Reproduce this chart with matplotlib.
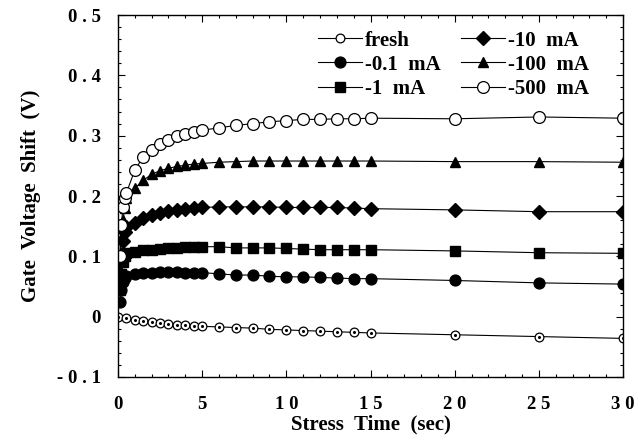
import matplotlib
matplotlib.use('Agg')
import matplotlib.pyplot as plt
from matplotlib.ticker import MultipleLocator, FuncFormatter

plt.rcParams['font.family'] = 'Liberation Serif'
plt.rcParams['font.weight'] = 'bold'

# ── data ──────────────────────────────────────────────────────────────────────
t_fresh = [0, 0.5, 1, 1.5, 2, 2.5, 3, 3.5, 4, 4.5, 5,
           6, 7, 8, 9, 10, 11, 12, 13, 14, 15, 20, 25, 30]
v_fresh = [0.000, -0.003, -0.005, -0.007, -0.009, -0.011, -0.012, -0.013, -0.014, -0.015, -0.016,
           -0.017, -0.018, -0.019, -0.021, -0.022, -0.023, -0.024, -0.025, -0.026, -0.027,
           -0.030, -0.033, -0.036]

t_stress = [0.1, 0.2, 0.3, 0.4, 0.5, 1, 1.5, 2, 2.5, 3, 3.5, 4, 4.5, 5,
            6, 7, 8, 9, 10, 11, 12, 13, 14, 15, 20, 25, 30]
v_01mA = [0.025, 0.045, 0.058, 0.064, 0.068, 0.070, 0.072, 0.073, 0.074, 0.074, 0.074, 0.073, 0.073, 0.073,
          0.071, 0.069, 0.069, 0.067, 0.066, 0.066, 0.065, 0.064, 0.063, 0.063, 0.060, 0.056, 0.054]
v_1mA = [0.045, 0.070, 0.090, 0.100, 0.105, 0.108, 0.110, 0.111, 0.112, 0.113, 0.114, 0.115, 0.116, 0.116,
         0.116, 0.114, 0.114, 0.114, 0.113, 0.112, 0.111, 0.111, 0.111, 0.111, 0.109, 0.106, 0.105]
v_10mA = [0.070, 0.100, 0.125, 0.140, 0.148, 0.155, 0.163, 0.168, 0.172, 0.175, 0.177, 0.179, 0.180, 0.181,
          0.182, 0.182, 0.182, 0.182, 0.181, 0.181, 0.181, 0.181, 0.180, 0.179, 0.177, 0.174, 0.174]
v_100mA = [0.090, 0.130, 0.160, 0.180, 0.197, 0.213, 0.226, 0.236, 0.242, 0.246, 0.249, 0.251, 0.253, 0.254,
           0.256, 0.257, 0.258, 0.258, 0.258, 0.258, 0.258, 0.258, 0.258, 0.258, 0.257, 0.257, 0.256]
v_500mA = [0.100, 0.152, 0.182, 0.197, 0.205, 0.243, 0.265, 0.277, 0.287, 0.293, 0.299, 0.303, 0.306, 0.309,
           0.313, 0.317, 0.320, 0.323, 0.325, 0.327, 0.327, 0.328, 0.328, 0.329, 0.328, 0.331, 0.329]

labels = ["fresh", "-0.1  mA", "-1  mA", "-10  mA", "-100  mA", "-500  mA"]

fig = plt.figure(figsize=(6.36, 4.47), dpi=100)
ax = fig.add_axes([0.1855, 0.1566, 0.7941, 0.8098])

lw = 0.8
h_fresh, = ax.plot(t_fresh, v_fresh, '-', color='k', lw=lw, marker='o', ms=6.3,
                   mfc='white', mec='k', mew=0.9)
ax.plot(t_fresh, v_fresh, ls='none', marker='o', ms=1.2, color='k', zorder=4)
h1, = ax.plot(t_stress, v_01mA, '-', color='k', lw=lw, marker='o', ms=7.8, mfc='k', mec='k')
h2, = ax.plot(t_stress, v_1mA, '-', color='k', lw=lw, marker='s', ms=7.2, mfc='k', mec='k')
h3, = ax.plot(t_stress, v_10mA, '-', color='k', lw=lw, marker='D', ms=7.6, mfc='k', mec='k')
h4, = ax.plot(t_stress, v_100mA, '-', color='k', lw=lw, marker='^', ms=7.5, mfc='k', mec='k')
h5, = ax.plot(t_stress, v_500mA, '-', color='k', lw=lw, marker='o', ms=8.5, mfc='white', mec='k', mew=0.9)

ax.set_xlim(0, 30)
ax.set_ylim(-0.1, 0.5)
ax.xaxis.set_major_locator(MultipleLocator(5))
ax.xaxis.set_minor_locator(MultipleLocator(1))
ax.yaxis.set_major_locator(MultipleLocator(0.1))
ax.yaxis.set_minor_locator(MultipleLocator(0.02))

def spaced_x(v, pos):
    return " ".join(str(int(round(v))))

def spaced_y(v, pos):
    s = "0" if abs(v) < 1e-9 else "%.1f" % v
    return " ".join(s) if s != "0" else s

ax.xaxis.set_major_formatter(FuncFormatter(spaced_x))
ax.yaxis.set_major_formatter(FuncFormatter(spaced_y))

ax.tick_params(which='both', direction='in', top=True, right=True, width=0.8)
ax.tick_params(which='major', length=5)
ax.tick_params(which='minor', length=2.5)
ax.tick_params(axis='x', which='major', pad=14, labelsize=13.5)
ax.tick_params(axis='y', which='major', pad=12.5, labelsize=13.5)
for s in ax.spines.values():
    s.set_linewidth(1.0)

ax.set_xlabel("Stress  Time  (sec)", fontsize=15, fontweight='bold', labelpad=1)
ax.set_ylabel("Gate  Voltage  Shift  (V)", fontsize=15, fontweight='bold', labelpad=11)

leg = ax.legend([h_fresh, h1, h2, h3, h4, h5], labels, ncol=2, frameon=False,
                loc='upper left', bbox_to_anchor=(0.396, 0.957), fontsize=15,
                handlelength=2.1, handletextpad=0.15, columnspacing=1.0,
                labelspacing=0.2, borderpad=0, borderaxespad=0)

fig.savefig("out.png", dpi=100)
